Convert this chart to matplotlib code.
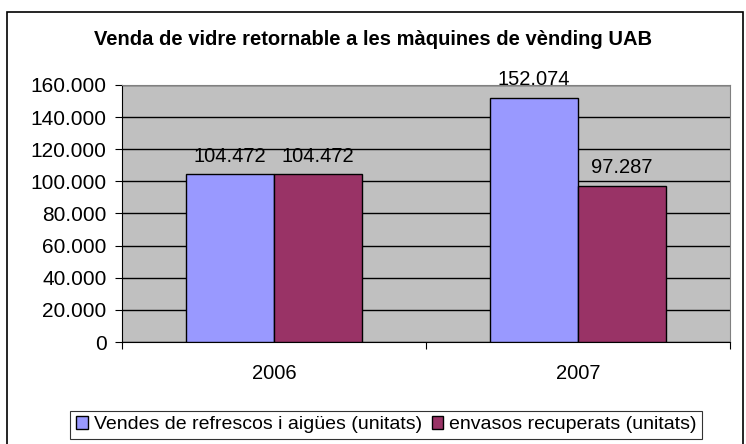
import matplotlib.pyplot as plt
from matplotlib.patches import Rectangle
import numpy as np

plt.rcParams['font.family'] = ['Liberation Sans', 'DejaVu Sans']

years = ['2006', '2007']
vendes = [104472, 152074]
envasos = [104472, 97287]
series_names = ['Vendes de refrescos i aigües (unitats)', 'envasos recuperats (unitats)']
colors = ['#9999FF', '#993366']


def fmt(v):
    return f'{v:,.0f}'.replace(',', '.')


fig = plt.figure(figsize=(7.46, 4.44), dpi=100)
ax = fig.add_axes([0.1635, 0.2297, 0.8151, 0.5789])
ax.set_facecolor('#C0C0C0')

x = np.arange(len(years))
w = 0.29
for i, (vals, c, name) in enumerate(zip([vendes, envasos], colors, series_names)):
    pos = x + (i - 0.5) * w
    bars = ax.bar(pos, vals, w, color=c, edgecolor='black', linewidth=1, label=name, zorder=3)
    for b, v in zip(bars, vals):
        ax.annotate(fmt(v), (b.get_x() + b.get_width() / 2, v), xytext=(0, 6),
                    textcoords='offset points', ha='center', va='bottom', fontsize=14.5)

ax.set_xlim(-0.5, len(years) - 0.5)
ax.set_ylim(0, 160000)
ax.set_yticks(np.arange(0, 160001, 20000))
ax.set_yticklabels([fmt(v) for v in np.arange(0, 160001, 20000)], fontsize=15)
ax.yaxis.grid(True, color='black', linewidth=1, zorder=1)
ax.set_axisbelow(True)

ax.set_xticks([-0.5, 0.5, 1.5])
ax.set_xticklabels([])
ax.set_xticks(x, minor=True)
ax.set_xticklabels(years, minor=True, fontsize=14.5)
ax.tick_params(axis='x', which='minor', length=0, pad=16)
ax.tick_params(axis='x', which='major', length=5, direction='out')
ax.tick_params(axis='y', length=5, direction='out', pad=6)

for s in ['top', 'right']:
    ax.spines[s].set_color('#808080')
for s in ['left', 'bottom']:
    ax.spines[s].set_color('black')

fig.text(0.5, 0.91, 'Venda de vidre retornable a les màquines de vènding UAB',
         ha='center', va='center', fontsize=14.5, fontweight='bold')

leg = fig.legend(loc='center', bbox_to_anchor=(0.518, 0.043), ncol=2, fontsize=14,
                 frameon=True, fancybox=False, edgecolor='black', handlelength=0.6,
                 handleheight=0.6, handletextpad=0.3, columnspacing=0.5, borderpad=0.3)
leg.get_frame().set_linewidth(0.8)

fig.patches.append(Rectangle((7 / 746, -0.05), 736 / 746, 1.05 - 12 / 444,
                             transform=fig.transFigure, fill=False, edgecolor='black',
                             linewidth=1.2))

fig.savefig('out.png', dpi=100)
